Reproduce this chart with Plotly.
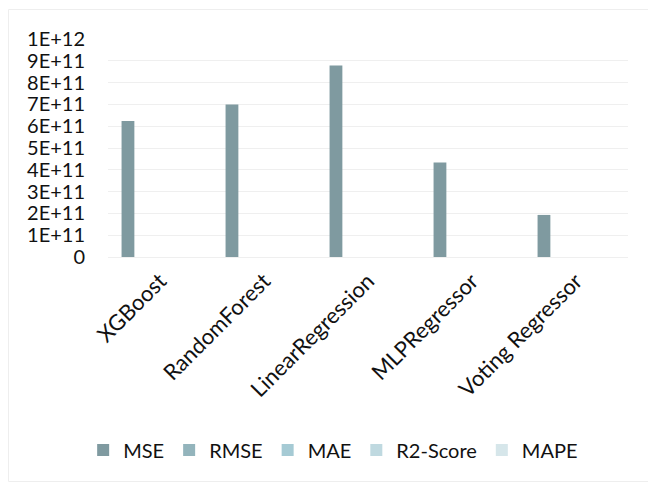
import plotly.graph_objects as go

models = ["XGBoost", "RandomForest", "LinearRegression", "MLPRegressor", "Voting Regressor"]
series_names = ["MSE", "RMSE", "MAE", "R2-Score", "MAPE"]
mse = [6.24e11, 6.99e11, 8.79e11, 4.34e11, 1.93e11]
rmse = [790000, 836000, 937000, 659000, 439000]
mae = [520000, 560000, 690000, 450000, 290000]
r2 = [0.87, 0.85, 0.82, 0.91, 0.96]
mape = [0.12, 0.13, 0.16, 0.10, 0.07]
colors = ["#7f9aa0", "#93b4bc", "#a5cad4", "#bfd9e0", "#d6e6ea"]
ytick_vals = [0, 1e11, 2e11, 3e11, 4e11, 5e11, 6e11, 7e11, 8e11, 9e11, 1e12]
ytick_text = ["0", "1E+11", "2E+11", "3E+11", "4E+11", "5E+11", "6E+11", "7E+11", "8E+11", "9E+11", "1E+12"]

font = "Lato, 'Open Sans', sans-serif"
fig = go.Figure()
for name, vals, c in zip(series_names, [mse, rmse, mae, r2, mape], colors):
    fig.add_trace(go.Bar(x=models, y=vals, name=name, marker=dict(color=c, line=dict(width=0))))

fig.update_layout(
    width=651, height=483,
    margin=dict(l=108, r=23, t=39, b=226),
    paper_bgcolor="white", plot_bgcolor="white",
    barmode="group", bargap=0.23, bargroupgap=0.2,
    font=dict(family=font, size=20, color="#111111"),
    legend=dict(orientation="h", x=0.433, xanchor="center", y=-0.885, yanchor="middle",
                font=dict(size=20), itemwidth=30, traceorder="normal"),
    showlegend=True,
)
fig.update_xaxes(tickangle=-45, showgrid=False, showline=False, ticks="", tickfont=dict(size=22),
                 ticklabelstandoff=6)
fig.update_yaxes(range=[0, 1e12], tickvals=ytick_vals, ticktext=ytick_text,
                 showgrid=True, gridcolor="#efefef", gridwidth=1, zeroline=True,
                 zerolinecolor="#efefef", zerolinewidth=1, ticks="", showline=False,
                 tickfont=dict(size=20), ticklabelstandoff=22)
# chart-area border (left, top, bottom edges)
L, T, B = (8.5 - 108) / 520, (257 - 9.5) / 218, (257 - 481.5) / 218
R = (648 - 108) / 520
border = dict(color="#eeeeee", width=1)
fig.add_shape(type="line", xref="paper", yref="paper", x0=L, x1=L, y0=B, y1=T, line=border, layer="below")
fig.add_shape(type="line", xref="paper", yref="paper", x0=L, x1=R, y0=T, y1=T, line=border, layer="below")
fig.add_shape(type="line", xref="paper", yref="paper", x0=L, x1=R, y0=B, y1=B, line=border, layer="below")
fig.write_html("out.html")
